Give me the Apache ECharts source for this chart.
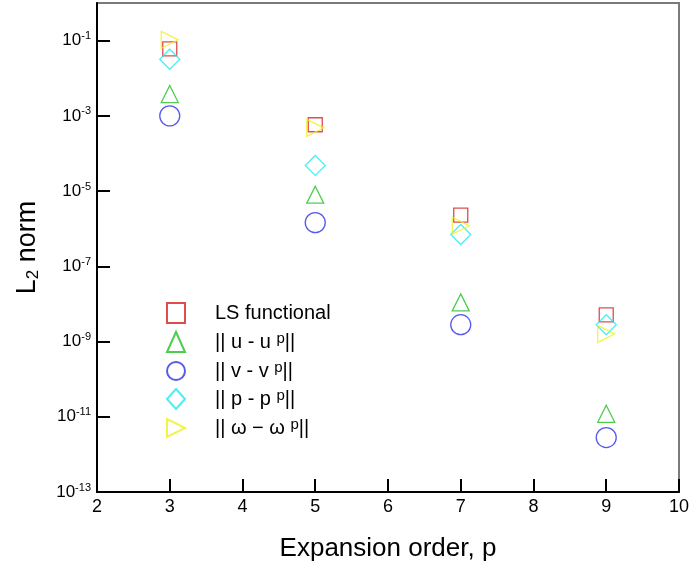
<!DOCTYPE html>
<html><head><meta charset="utf-8">
<script src="https://cdn.jsdelivr.net/npm/echarts@6/dist/echarts.min.js"></script>
<style>html,body{margin:0;padding:0;background:#fff}#c{width:692px;height:567px}</style>
</head><body><div id="c"></div>
<script>
// Data
const xValues = [3, 5, 7, 9];
const lsFunctional = [0.06, 5.8e-4, 2.3e-6, 5.1e-9];
const uErr = [0.0038, 8e-6, 1.1e-8, 1.2e-11];
const vErr = [1.0e-3, 1.45e-6, 2.8e-9, 2.8e-12];
const pErr = [0.032, 4.8e-5, 7e-7, 2.8e-9];
const wErr = [0.105, 4.8e-4, 1.2e-6, 1.6e-9];
const yTickExponents = [-13, -11, -9, -7, -5, -3, -1];
const xTicks = [2, 3, 4, 5, 6, 7, 8, 9, 10];

const rightTriangle = 'path://M0,0 L17,8.5 L0,17 Z';
const seriesDefs = [
  {name: 'LS functional', data: lsFunctional, symbol: 'rect', size: 14, color: '#d42020', rich: 'LS functional'},
  {name: 'u', data: uErr, symbol: 'triangle', size: 17, color: '#20c020', rich: '|| u - u {s|p}||'},
  {name: 'v', data: vErr, symbol: 'circle', size: 20, color: '#3030e8', rich: '|| v - v {s|p}||'},
  {name: 'p', data: pErr, symbol: 'diamond', size: 20, color: '#20e8f0', rich: '|| p - p {s|p}||'},
  {name: 'w', data: wErr, symbol: rightTriangle, size: 17, color: '#f0f020', rich: '|| \u03c9 \u2212 \u03c9 {s|p}||'}
];

const chart = echarts.init(document.getElementById('c'));
const richMap = {};
seriesDefs.forEach(s => richMap[s.name] = s.rich);

chart.setOption({
  animation: false,
  grid: {left: 97, right: 11, top: 3, bottom: 70, show: true, borderColor: '#7a7a7a', borderWidth: 2},
  legend: {
    orient: 'vertical', left: 161, top: 297, itemGap: 7, itemWidth: 18, itemHeight: 20,
    data: seriesDefs.map(s => ({name: s.name, icon: s.symbol})),
    formatter: n => richMap[n],
    textStyle: {fontFamily: 'Liberation Sans', fontSize: 20, color: '#000', padding: [0, 0, 0, 25],
      rich: {s: {fontFamily: 'Liberation Sans', fontSize: 15, color: '#000', verticalAlign: 'top', padding: [0, 0, 7, 0]}}}
  },
  xAxis: {
    type: 'value', min: 2, max: 10, interval: 1,
    name: 'Expansion order, p', nameLocation: 'middle', nameGap: 44,
    nameTextStyle: {fontFamily: 'Liberation Sans', fontSize: 26, color: '#000'},
    axisLine: {lineStyle: {color: '#000', width: 2}},
    axisTick: {inside: true, length: 13, lineStyle: {color: '#000', width: 2}},
    axisLabel: {fontFamily: 'Liberation Sans', fontSize: 18, color: '#000', margin: 6,
      formatter: v => xTicks.includes(v) ? String(v) : ''},
    splitLine: {show: false}
  },
  yAxis: {
    type: 'log', logBase: 10, min: 1e-13, max: 1, interval: 2,
    name: '{a|L}{b|2}{a| norm}', nameLocation: 'middle', nameGap: 55, nameRotate: 90,
    nameTextStyle: {rich: {
      a: {fontFamily: 'Liberation Sans', fontSize: 27, color: '#000'},
      b: {fontFamily: 'Liberation Sans', fontSize: 17, color: '#000', verticalAlign: 'bottom', padding: [12, 0, 0, 0]}
    }},
    axisLine: {lineStyle: {color: '#000', width: 2}},
    axisTick: {inside: true, length: 13, lineStyle: {color: '#000', width: 2}},
    minorTick: {show: false},
    axisLabel: {showMaxLabel: false, margin: 6,
      formatter: v => {
        const e = Math.round(Math.log10(v));
        return yTickExponents.includes(e) ? '{m|10}{e|' + e + '}' : '';
      },
      rich: {
        m: {fontFamily: 'Liberation Sans', fontSize: 17, color: '#000'},
        e: {fontFamily: 'Liberation Sans', fontSize: 11, color: '#000', verticalAlign: 'top', padding: [0, 0, 9, 0]}
      }},
    splitLine: {show: false}
  },
  series: seriesDefs.map(s => ({
    name: s.name, type: 'scatter',
    symbol: s.symbol, symbolSize: s.size,
    itemStyle: {color: 'rgba(0,0,0,0)', borderColor: s.color, borderWidth: 1.3},
    data: xValues.map((x, i) => [x, s.data[i]])
  }))
});
</script></body></html>
